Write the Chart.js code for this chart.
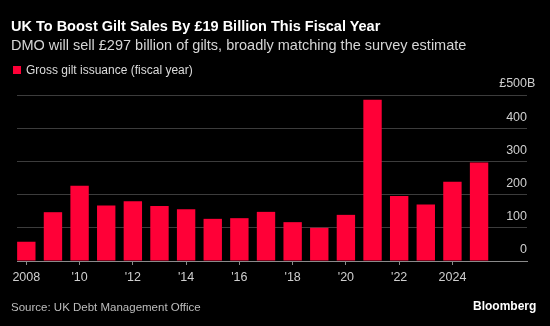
<!DOCTYPE html>
<html>
<head>
<meta charset="utf-8">
<script src="https://cdn.jsdelivr.net/npm/chart.js@4.4.1/dist/chart.umd.min.js"></script>
<style>
  html, body { margin: 0; padding: 0; background: #000; }
  body { width: 550px; height: 326px; position: relative; overflow: hidden; font-family: "Liberation Sans", Arial, sans-serif; }
  #chart { position: absolute; left: 0; top: 0; }
  .txt { position: absolute; white-space: nowrap; line-height: 1; }
  #title { left: 11px; top: 19px; font-size: 14.5px; font-weight: bold; color: #fff; }
  #subtitle { left: 11px; top: 38px; font-size: 14.5px; color: #d6d6d6; }
  #legend { left: 13px; top: 64px; font-size: 12px; color: #dcdcdc; }
  #legend span { display: inline-block; width: 8px; height: 8px; background: #ff0037; margin-right: 5px; vertical-align: -0px; }
  #source { left: 11px; top: 302px; font-size: 11.5px; color: #bdbdbd; }
  #brand { left: 473px; top: 300px; font-size: 12px; font-weight: bold; color: #fff; }
</style>
</head>
<body>
<canvas id="chart" width="550" height="326"></canvas>
<div class="txt" id="title">UK To Boost Gilt Sales By £19 Billion This Fiscal Year</div>
<div class="txt" id="subtitle">DMO will sell £297 billion of gilts, broadly matching the survey estimate</div>
<div class="txt" id="legend"><span></span>Gross gilt issuance (fiscal year)</div>
<div class="txt" id="source">Source: UK Debt Management Office</div>
<div class="txt" id="brand">Bloomberg</div>
<script>
// fiscal years as labelled on the axis
const years = [2008, 2009, 2010, 2011, 2012, 2013, 2014, 2015, 2016, 2017, 2018, 2019, 2020, 2021, 2022, 2023, 2024, 2025];
// gross gilt issuance, £ billion
const issuance = [58, 147, 227, 167, 180, 166, 156, 127, 129, 148, 117, 100, 139, 486, 196, 170, 239, 297];

const xTickYears = [2008, 2010, 2012, 2014, 2016, 2018, 2020, 2022, 2024];
const xTickLabels = ["2008", "'10", "'12", "'14", "'16", "'18", "'20", "'22", "2024"];
const yTicks = [0, 100, 200, 300, 400, 500];

const red = "#ff0037";
const labelFont = "12.5px 'Liberation Sans', Arial, sans-serif";

// y labels sit above each gridline, right-aligned; top one gets £ and B
const yLabels = {
  id: "yLabels",
  afterDraw(chart) {
    const { ctx, chartArea, scales } = chart;
    const right = chartArea.right;
    ctx.save();
    ctx.font = labelFont;
    ctx.fillStyle = "#cfcfcf";
    ctx.textBaseline = "middle";
    yTicks.forEach((v) => {
      const y = scales.y.getPixelForValue(v) - 11;
      const num = String(v);
      ctx.textAlign = "right";
      ctx.fillText(num, right, y);
      if (v === yTicks[yTicks.length - 1]) {
        ctx.fillText("£", right - ctx.measureText(num).width, y);
        ctx.textAlign = "left";
        ctx.fillText("B", right, y);
      }
    });
    ctx.restore();
  },
};

new Chart(document.getElementById("chart"), {
  type: "bar",
  data: {
    datasets: [
      {
        label: "Gross gilt issuance (fiscal year)",
        data: years.map((y, i) => ({ x: y, y: issuance[i] })),
        backgroundColor: red,
        borderWidth: 0,
        barPercentage: 0.69,
        categoryPercentage: 1,
      },
    ],
  },
  options: {
    responsive: false,
    animation: false,
    layout: { padding: { left: 17, right: 23, top: 95, bottom: 36 } },
    plugins: { legend: { display: false }, tooltip: { enabled: false } },
    scales: {
      x: {
        type: "linear",
        offset: false,
        min: 2007.65,
        max: 2026.8,
        afterBuildTicks: (axis) => {
          axis.ticks = xTickYears.map((v) => ({ value: v }));
        },
        border: { display: true, color: "#8a8a8a", width: 1 },
        grid: { offset: false, drawOnChartArea: false, drawTicks: true, tickLength: 4, color: "#8a8a8a" },
        ticks: {
          autoSkip: false,
          maxRotation: 0,
          padding: 5,
          color: "#cfcfcf",
          font: { family: "'Liberation Sans', Arial, sans-serif", size: 12.5 },
          callback: (v) => xTickLabels[xTickYears.indexOf(v)],
        },
      },
      y: {
        position: "right",
        min: 0,
        max: 500,
        afterBuildTicks: (axis) => {
          axis.ticks = yTicks.map((v) => ({ value: v }));
        },
        border: { display: false },
        grid: { color: "#3c3c3c", lineWidth: 1, drawTicks: false },
        ticks: { display: false },
      },
    },
  },
  plugins: [yLabels],
});
</script>
</body>
</html>
